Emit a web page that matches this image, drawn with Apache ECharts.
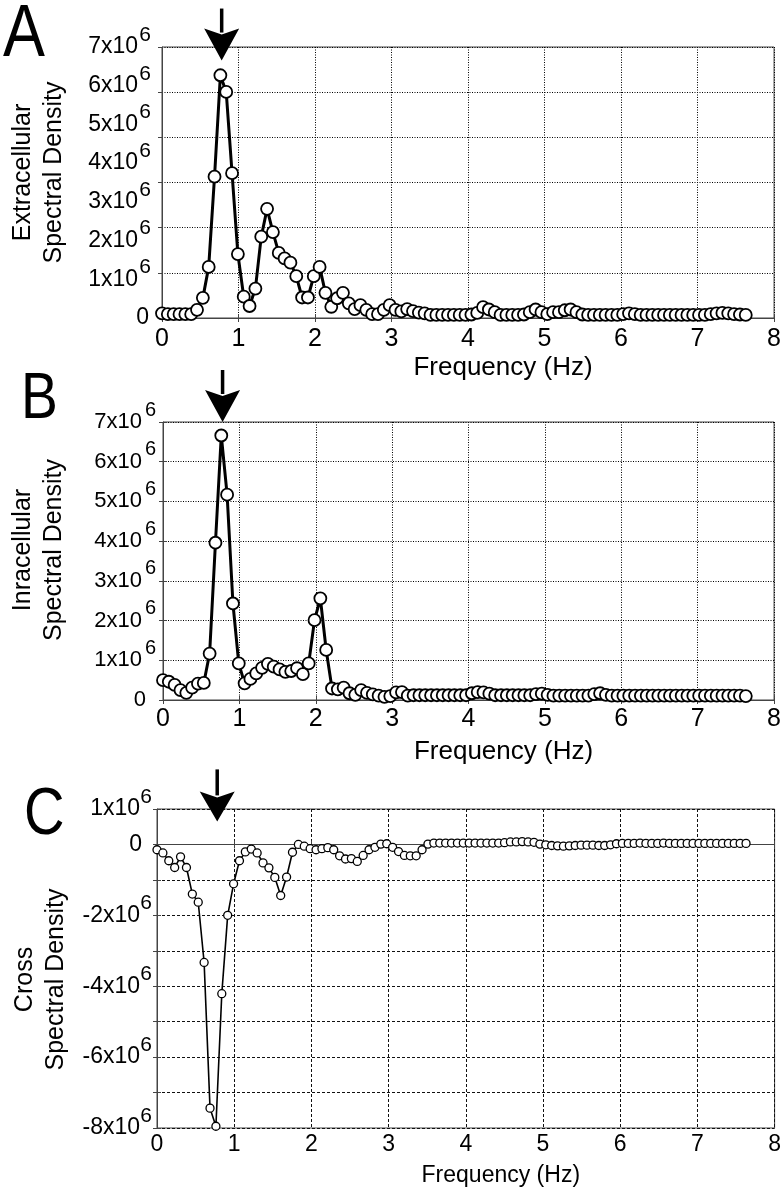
<!DOCTYPE html>
<html><head><meta charset="utf-8">
<script src="https://cdn.jsdelivr.net/npm/echarts@6/dist/echarts.min.js"></script>
<style>html,body{margin:0;padding:0;background:#fff}#c{width:784px;height:1200px}</style>
</head><body><div id="c"></div>
<script>
// frequency resolution (Hz) of the spectra
const DF = 0.0763;
// values in units of 1e6
const extracellular = [
 0.12,0.1,0.1,0.1,0.1,0.1,0.21,0.52,1.32,3.65,
 6.27,5.84,3.74,1.65,0.55,0.31,0.76,2.1,2.82,2.22,
 1.68,1.54,1.43,1.08,0.53,0.53,1.08,1.32,0.65,0.29,
 0.51,0.65,0.38,0.23,0.33,0.21,0.1,0.1,0.21,0.33,
 0.21,0.17,0.23,0.18,0.14,0.12,0.08,0.08,0.08,0.08,
 0.08,0.08,0.08,0.09,0.13,0.28,0.22,0.15,0.08,0.08,
 0.08,0.08,0.09,0.15,0.22,0.15,0.1,0.15,0.15,0.2,
 0.22,0.15,0.09,0.08,0.08,0.08,0.08,0.08,0.08,0.1,
 0.12,0.1,0.08,0.08,0.08,0.08,0.08,0.08,0.08,0.08,
 0.08,0.08,0.08,0.08,0.1,0.12,0.13,0.12,0.1,0.09,
 0.08];
const intracellular = [
 0.5,0.46,0.38,0.25,0.18,0.31,0.41,0.43,1.17,3.96,
 6.66,5.17,2.43,0.92,0.42,0.53,0.67,0.81,0.91,0.84,
 0.77,0.71,0.73,0.80,0.65,0.92,2.01,2.56,1.26,0.29,
 0.27,0.31,0.17,0.13,0.25,0.18,0.14,0.11,0.08,0.1,
 0.19,0.2,0.11,0.12,0.12,0.12,0.12,0.12,0.12,0.12,
 0.12,0.12,0.12,0.17,0.2,0.19,0.16,0.12,0.12,0.12,
 0.12,0.12,0.12,0.12,0.15,0.16,0.13,0.11,0.11,0.11,
 0.11,0.11,0.11,0.11,0.15,0.17,0.13,0.11,0.11,0.11,
 0.11,0.11,0.11,0.11,0.11,0.11,0.11,0.11,0.11,0.11,
 0.11,0.11,0.11,0.11,0.11,0.11,0.11,0.11,0.11,0.11,
 0.1];
const cross = [
 -0.15,-0.24,-0.46,-0.65,-0.35,-0.65,-1.40,-1.63,-3.33,-7.44,
 -7.95,-4.21,-2.0,-1.11,-0.46,-0.21,-0.13,-0.24,-0.52,-0.66,
 -0.93,-1.44,-0.92,-0.22,0.0,-0.05,-0.12,-0.15,-0.12,-0.09,
 -0.15,-0.32,-0.41,-0.40,-0.48,-0.31,-0.15,-0.08,0.01,0.02,
 -0.08,-0.2,-0.31,-0.32,-0.32,-0.15,0.01,0.04,0.04,0.04,
 0.04,0.04,0.04,0.04,0.04,0.04,0.04,0.04,0.04,0.05,
 0.07,0.07,0.08,0.07,0.06,0.01,-0.01,-0.03,-0.04,-0.05,
 -0.04,-0.03,-0.02,-0.02,-0.02,-0.03,-0.03,-0.01,0.02,0.03,
 0.03,0.03,0.04,0.03,0.03,0.03,0.04,0.03,0.03,0.03,
 0.03,0.03,0.03,0.03,0.03,0.03,0.03,0.03,0.03,0.03,
 0.03];
const freqTicks = [0,1,2,3,4,5,6,7,8];
const arrowFreq = 0.78;
const panelLetters = ['A','B','C'];
const yTitles = ['Extracellular\nSpectral Density','Inracellular\nSpectral Density','Cross\nSpectral Density'];
const xTitle = 'Frequency (Hz)';

const FONT = 'Liberation Sans, Arial, Helvetica, sans-serif';
const toPairs = arr => arr.map((v, i) => [+(i * DF).toFixed(4), v * 1e6]);

function makeRich(fs, mainPad, zeroPad) {
  return {
    m: {fontSize: fs, lineHeight: 24, fontFamily: FONT, color: '#000', padding: [0, mainPad, 4, 0]},
    s: {fontSize: fs - 2, lineHeight: 4, fontFamily: FONT, color: '#000'},
    z: {fontSize: fs, lineHeight: 24, fontFamily: FONT, color: '#000', padding: [0, zeroPad, 0, 0]}
  };
}
function expLabel(v) {
  const n = Math.round(v / 1e6);
  if (n === 0) return '{z|0}';
  return '{s|6}\n{m|' + n + 'x10}';
}
function crossLabel(v) {
  const n = Math.round(v / 1e6);
  if (n === 0) return '{z|0}';
  if (n === 1 || n % 2 === 0) return '{s|6}\n{m|' + n + 'x10}';
  return '';
}

const grids = [
  {left: 151, top: 47, width: 626, height: 271},
  {left: 157, top: 422, width: 620, height: 278},
  {left: 157, top: 809, width: 621, height: 319}
].map(g => Object.assign(g, {show: true, borderColor: '#444', borderWidth: 1, backgroundColor: '#fff'}));

const dotted = {color: '#000', width: 1, type: [1, 1.5]};
const dashed = {color: '#111', width: 1, type: [3, 2]};

function xAxes(gi, fs, gap, line) {
  return [{
    type: 'value', gridIndex: gi, min: 0, max: 8, interval: 1, position: 'bottom',
    axisLine: {show: true, lineStyle: {color: '#444'}},
    axisTick: {show: true, inside: true, length: 4, lineStyle: {color: '#444'}},
    axisLabel: {fontSize: fs, fontFamily: FONT, color: '#000', margin: gap[0],
      showMinLabel: true, showMaxLabel: true,
      formatter: v => freqTicks.includes(v) ? String(v) : ''},
    splitLine: {show: true, lineStyle: line},
    name: xTitle, nameLocation: 'middle', nameGap: gap[1],
    nameTextStyle: {fontSize: gap[2], fontFamily: FONT, color: '#000', padding: [0, 0, 0, 70]}
  }, {
    type: 'value', gridIndex: gi, min: 0, max: 8, interval: 1, position: 'top',
    axisLine: {show: false}, axisLabel: {show: false}, splitLine: {show: false},
    axisTick: {show: true, inside: true, length: 4, lineStyle: {color: '#444'}}
  }];
}

const yTitleStyle = (pad) => ({fontSize: 25, lineHeight: 31, fontFamily: FONT, color: '#000', padding: pad, align: 'center'});
const yLab = (fmt, margin, rich) => ({formatter: fmt, rich: rich, margin: margin, showMinLabel: true, showMaxLabel: true, hideOverlap: false});

const option = {
  animation: false,
  backgroundColor: '#fff',
  grid: grids,
  xAxis: [].concat(
    xAxes(0, 25, [9, 37, 26], dotted),
    xAxes(1, 25, [7, 39, 26], dotted),
    xAxes(2, 23, [5, 36, 23], dashed)
  ),
  yAxis: [
    // A: tick labels (7 intervals)
    {type: 'value', gridIndex: 0, min: 0, max: 7e6, interval: 1e6, position: 'left',
     axisLine: {show: true, lineStyle: {color: '#444'}}, axisTick: {show: false},
     splitLine: {show: false},
     axisLabel: yLab(expLabel, 11, makeRich(23, 13, 2)),
     name: yTitles[0], nameLocation: 'middle', nameGap: 92, nameRotate: 90,
     nameTextStyle: yTitleStyle([0, 0, 0, 20])},
    // A: grid lines (6 intervals)
    {type: 'value', gridIndex: 0, min: 0, max: 6, interval: 1, position: 'right',
     axisLine: {show: false}, axisLabel: {show: false},
     axisTick: {show: true, inside: true, length: 4, lineStyle: {color: '#444'}},
     splitLine: {show: true, lineStyle: dotted}},
    // B
    {type: 'value', gridIndex: 1, min: 0, max: 7e6, interval: 1e6, position: 'left',
     axisLine: {show: true, lineStyle: {color: '#444'}},
     axisTick: {show: true, inside: true, length: 4, lineStyle: {color: '#444'}},
     splitLine: {show: true, lineStyle: dotted},
     axisLabel: yLab(expLabel, 7, makeRich(22, 14, 10)),
     name: yTitles[1], nameLocation: 'middle', nameGap: 93, nameRotate: 90,
     nameTextStyle: yTitleStyle([0, 0, 0, 22])},
    {type: 'value', gridIndex: 1, min: 0, max: 7e6, interval: 1e6, position: 'right',
     axisLine: {show: false}, axisLabel: {show: false}, splitLine: {show: false},
     axisTick: {show: true, inside: true, length: 4, lineStyle: {color: '#444'}}},
    // C
    {type: 'value', gridIndex: 2, min: -8e6, max: 1e6, interval: 1e6, position: 'left',
     axisLine: {show: true, lineStyle: {color: '#444'}},
     axisTick: {show: true, inside: true, length: 4, lineStyle: {color: '#444'}},
     splitLine: {show: true, lineStyle: dashed},
     axisLabel: yLab(crossLabel, 5, makeRich(23, 12, 10)),
     name: yTitles[2], nameLocation: 'middle', nameGap: 67, nameRotate: 90,
     nameTextStyle: yTitleStyle([0, 22, 0, 0])},
    {type: 'value', gridIndex: 2, min: -8e6, max: 1e6, interval: 1e6, position: 'right',
     axisLine: {show: false}, axisLabel: {show: false}, splitLine: {show: false},
     axisTick: {show: true, inside: true, length: 4, lineStyle: {color: '#444'}}}
  ],
  series: [
    {type: 'line', xAxisIndex: 0, yAxisIndex: 0, data: toPairs(extracellular),
     symbol: 'circle', symbolSize: 12, showAllSymbol: true,
     lineStyle: {color: '#000', width: 3}, itemStyle: {color: '#fff', borderColor: '#000', borderWidth: 1.8}},
    {type: 'line', xAxisIndex: 2, yAxisIndex: 2, data: toPairs(intracellular),
     symbol: 'circle', symbolSize: 12, showAllSymbol: true,
     lineStyle: {color: '#000', width: 3}, itemStyle: {color: '#fff', borderColor: '#000', borderWidth: 1.8}},
    {type: 'line', xAxisIndex: 4, yAxisIndex: 4, data: toPairs(cross),
     symbol: 'circle', symbolSize: 8, showAllSymbol: true,
     lineStyle: {color: '#000', width: 1.6}, itemStyle: {color: '#fff', borderColor: '#000', borderWidth: 1.3}}
  ]
};

const chart = echarts.init(document.getElementById('c'), null, {renderer: 'canvas'});
chart.setOption(option);

// arrows marking the dominant frequency, positioned through the axes
const arrowSpecs = [
  {xi: 0, yi: 0, tip: 6.65e6, head: 32, shaft: 20},
  {xi: 2, yi: 2, tip: 7.0e6, head: 32, shaft: 20},
  {xi: 4, yi: 4, tip: 0.65e6, head: 30, shaft: 22}
];
const graphics = [];
arrowSpecs.forEach(a => {
  const p = chart.convertToPixel({xAxisIndex: a.xi, yAxisIndex: a.yi}, [arrowFreq, a.tip]);
  const x = p[0], y = p[1];
  graphics.push({type: 'polygon', shape: {points: [[x, y], [x - 17.5, y - a.head], [x, y - a.head + 6], [x + 17.5, y - a.head]]},
    style: {fill: '#000'}, z: 10});
  graphics.push({type: 'line', shape: {x1: x, y1: y - a.head + 4, x2: x, y2: y - a.head - a.shaft},
    style: {stroke: '#000', lineWidth: 3.5}, z: 10});
});
const letterPos = [[3, 36], [21, 400], [24, 816]];
const letterSize = [74, 65, 66];
panelLetters.forEach((t, i) => {
  graphics.push({type: 'text', x: letterPos[i][0], y: letterPos[i][1], scaleX: 0.85,
    style: {text: t, fontSize: letterSize[i], fontFamily: FONT, fill: '#000', textAlign: 'left', textVerticalAlign: 'middle'}, z: 10});
});
chart.setOption({graphic: graphics});
</script>
</body></html>
